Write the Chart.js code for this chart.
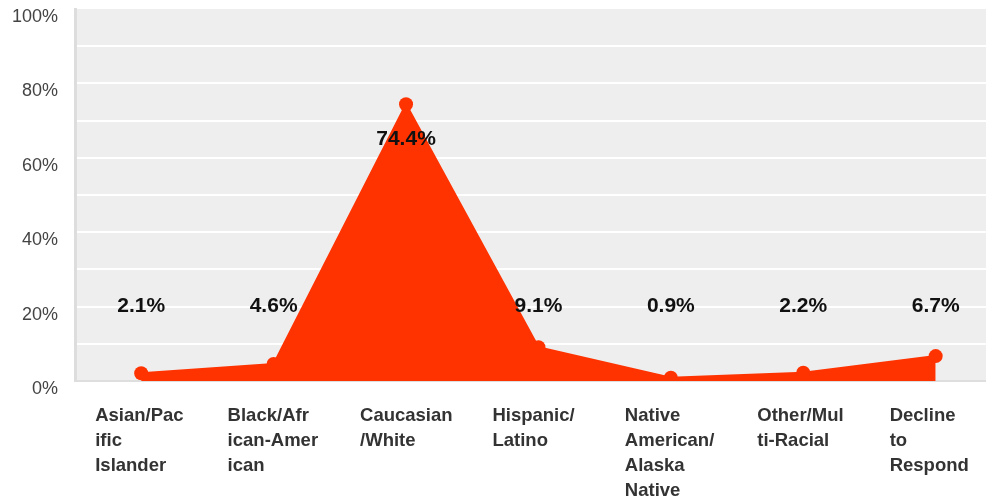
<!DOCTYPE html>
<html>
<head>
<meta charset="utf-8">
<script src="https://cdn.jsdelivr.net/npm/chart.js@4"></script>
<style>
  html, body { margin: 0; padding: 0; background: #fff; }
  #wrap { width: 986px; height: 503px; position: relative; }
</style>
</head>
<body>
<div id="wrap"><canvas id="ethnicityChart"></canvas></div>
<script>
const categories = [
  'Asian/Pacific Islander',
  'Black/African-American',
  'Caucasian/White',
  'Hispanic/Latino',
  'Native American/Alaska Native',
  'Other/Multi-Racial',
  'Decline to Respond'
];
const shares = [2.1, 4.6, 74.4, 9.1, 0.9, 2.2, 6.7];
const yLabelStep = 20;

const FONT = "'Liberation Sans', Arial, sans-serif";
const RED = '#ff3300';

// break a label into lines of at most 9 characters, like the original
function wrap(text, max = 9) {
  const lines = [];
  let cur = '';
  text.split(' ').forEach(word => {
    while (word.length > max) {
      if (cur) { lines.push(cur); cur = ''; }
      lines.push(word.slice(0, max));
      word = word.slice(max);
    }
    if (!cur) cur = word;
    else if ((cur + ' ' + word).length <= max) cur += ' ' + word;
    else { lines.push(cur); cur = word; }
  });
  if (cur) lines.push(cur);
  return lines;
}

// no extra room for labels hanging past the plot edges
function noPadding(s) {
  s.paddingLeft = 0;
  s.paddingRight = 0;
  s.paddingTop = 0;
  s.paddingBottom = 0;
}

const plotBackground = {
  id: 'plotBackground',
  beforeDraw(chart) {
    const { ctx, chartArea: a } = chart;
    ctx.save();
    ctx.fillStyle = '#eeeeee';
    ctx.fillRect(a.left, a.top, a.right - a.left, a.bottom - a.top);
    ctx.restore();
  }
};

const valueLabels = {
  id: 'valueLabels',
  afterDatasetsDraw(chart) {
    const { ctx } = chart;
    const y = chart.scales.y;
    const meta = chart.getDatasetMeta(0);
    ctx.save();
    ctx.font = 'bold 21px ' + FONT;
    ctx.fillStyle = '#111';
    ctx.textAlign = 'center';
    ctx.textBaseline = 'middle';
    meta.data.forEach((pt, i) => {
      const ly = Math.min(pt.y + 35, y.getPixelForValue(20));
      ctx.fillText(shares[i].toFixed(1) + '%', pt.x, ly);
    });
    ctx.restore();
  }
};

new Chart(document.getElementById('ethnicityChart'), {
  type: 'line',
  data: {
    datasets: [{
      data: shares.map((v, i) => ({ x: i, y: v })),
      borderColor: RED,
      backgroundColor: RED,
      borderWidth: 2,
      fill: 'origin',
      tension: 0,
      pointRadius: 7,
      pointBackgroundColor: RED,
      pointBorderWidth: 0
    }]
  },
  options: {
    responsive: true,
    maintainAspectRatio: false,
    animation: false,
    layout: { autoPadding: false, padding: { top: 9, left: 0, right: 0, bottom: 0 } },
    plugins: { legend: { display: false }, tooltip: { enabled: false } },
    scales: {
      x: {
        type: 'linear',
        min: -0.5,
        max: 6.38,
        z: 1,
        afterBuildTicks: s => { s.ticks = categories.map((c, i) => ({ value: i })); },
        afterFit: s => { s.height = 122; noPadding(s); },
        grid: { display: false, drawTicks: false },
        border: { color: 'rgba(200,200,200,0.6)', width: 2 },
        ticks: {
          autoSkip: false,
          maxRotation: 0,
          align: 'start',
          labelOffset: -46,
          padding: 22,
          color: '#333',
          font: { family: FONT, size: 18.5, weight: 'bold', lineHeight: 1.36 },
          callback: v => wrap(categories[v])
        }
      },
      y: {
        min: 0,
        max: 100,
        afterFit: s => { s.width = 75; noPadding(s); },
        grid: {
          color: c => (c.tick && c.tick.value === 100 ? 'rgba(0,0,0,0)' : '#ffffff'),
          lineWidth: 2,
          drawTicks: false
        },
        border: { color: '#dddddd', width: 3 },
        ticks: {
          stepSize: 10,
          padding: 17,
          labelOffset: 8,
          color: '#444',
          font: { family: FONT, size: 18 },
          callback: v => (v % yLabelStep === 0 ? v + '%' : '')
        }
      }
    }
  },
  plugins: [plotBackground, valueLabels]
});
</script>
</body>
</html>
